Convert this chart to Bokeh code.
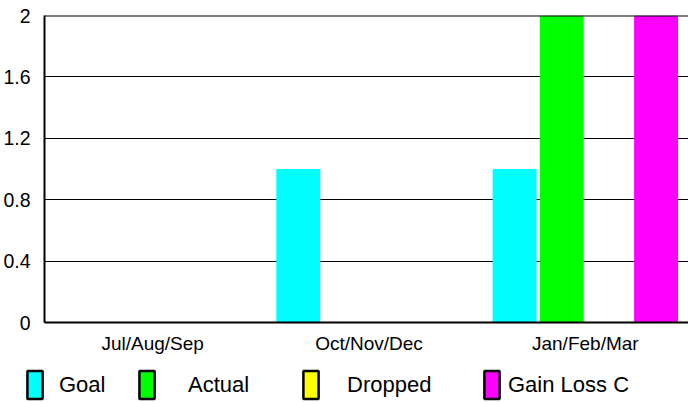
from bokeh.plotting import figure
from bokeh.models import Range1d, FixedTicker, Legend, LegendItem, ColumnDataSource, Span
from bokeh.transform import dodge
from bokeh.embed import file_html
from bokeh.resources import INLINE

categories = ["Jul/Aug/Sep", "Oct/Nov/Dec", "Jan/Feb/Mar"]
goal = [0, 1, 1]
actual = [0, 0, 2]
dropped = [0, 0, 0]
gain_loss = [0, 0, 2]
series_names = ["Goal", "Actual", "Dropped", "Gain Loss C"]
series_colors = ["#00FFFF", "#00FF00", "#FFFF00", "#FF00FF"]
y_ticks = [0, 0.4, 0.8, 1.2, 1.6, 2]
y_tick_labels = ["0", "0.4", "0.8", "1.2", "1.6", "2"]

FONT = "Liberation Sans"

xpos = [i + 0.5 for i in range(len(categories))]
source = ColumnDataSource(dict(x=xpos, goal=goal, actual=actual,
                               dropped=dropped, gain=gain_loss))
cols = ["goal", "actual", "dropped", "gain"]

p = figure(width=688, height=360, output_backend="svg", toolbar_location=None,
           x_range=Range1d(0, 2.977), y_range=Range1d(0, 2),
           min_border_left=42, min_border_right=0, min_border_top=15,
           min_border_bottom=38)

slot = 0.218
offsets = [-1.5 * slot, -0.5 * slot, 0.5 * slot, 1.5 * slot]
for col, color, off in zip(cols, series_colors, offsets):
    p.vbar(x=dodge("x", off), top=col, bottom=0, width=0.203, source=source,
           fill_color=color, line_color=None)

p.outline_line_color = None
p.add_layout(Span(location=2, dimension="width", line_color="black", line_width=2))

p.xaxis.ticker = FixedTicker(ticks=xpos)
p.xaxis.major_label_overrides = dict(zip(xpos, categories))
p.yaxis.ticker = FixedTicker(ticks=y_ticks)
p.yaxis.major_label_overrides = dict(zip(y_ticks, y_tick_labels))

for ax in (p.xaxis, p.yaxis):
    ax.axis_line_color = "black"
    ax.axis_line_width = 2
    ax.major_tick_line_color = None
    ax.minor_tick_line_color = None
    ax.major_label_text_font = FONT
    ax.major_label_text_color = "black"
p.xaxis.major_label_text_font_size = "19px"
p.yaxis.major_label_text_font_size = "19.5px"
p.xaxis.major_label_standoff = 4
p.yaxis.major_label_standoff = 8

p.xgrid.grid_line_color = None
p.ygrid.grid_line_color = "black"
p.ygrid.grid_line_width = 1

# legend strip below the chart (separate root, so its frame spans the full width)
lf = figure(width=688, height=42, output_backend="svg", toolbar_location=None,
            x_range=Range1d(0, 1), y_range=Range1d(0, 1),
            x_axis_location=None, y_axis_location=None,
            min_border=0, min_border_left=0, min_border_right=0,
            min_border_top=0, min_border_bottom=0)
lf.grid.grid_line_color = None
lf.outline_line_color = None

legend_pos = [(25, 15), (137, 32), (301, 27), (482, 7)]
for name, color, (vx, standoff) in zip(series_names, series_colors, legend_pos):
    r = lf.vbar(x=[5], top=[0], bottom=[0], width=0.2, fill_color=color,
                line_color="black", line_width=2.5)
    lg = Legend(items=[LegendItem(label=name, renderers=[r])],
                location=(vx, 0), orientation="horizontal",
                glyph_width=19, glyph_height=35, label_standoff=standoff,
                label_text_font=FONT, label_text_font_size="22px",
                label_text_color="black", label_text_baseline="middle",
                margin=0, padding=0, spacing=0,
                border_line_color=None, background_fill_alpha=0)
    lf.add_layout(lg, "center")

open("out.html", "w").write(file_html([p, lf], INLINE))
